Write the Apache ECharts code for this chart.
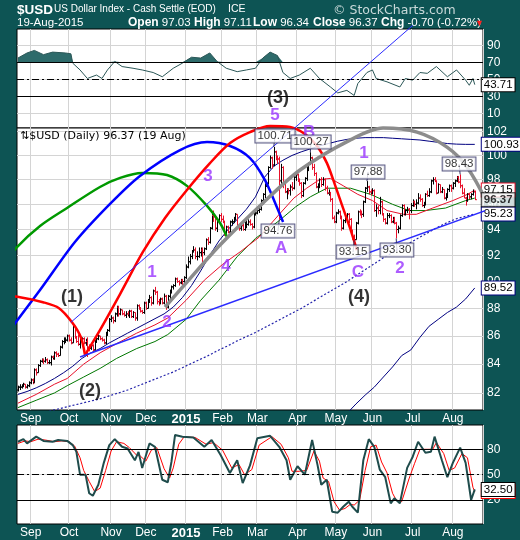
<!DOCTYPE html>
<html><head><meta charset="utf-8">
<script src="https://cdn.jsdelivr.net/npm/echarts@6/dist/echarts.min.js"></script>
<style>html,body{margin:0;padding:0;background:#0d5454}#c{width:520px;height:540px}</style>
</head><body><div id="c"></div>
<script>
// ---------- DATA ----------
const HOLIDAYS = ['2014-09-01','2014-11-27','2014-12-25','2015-01-01','2015-01-19','2015-02-16','2015-04-03','2015-05-25','2015-07-03'];
const FIRST_DAY = '2014-08-21';
const N_SLOTS = 255;
const MONTHS = ['2015','Feb','Mar','Apr','May','Jun','Jul','Aug','Sep','Oct','Nov','Dec'];
const priceTicks = [82,84,86,88,90,92,94,96,98,100,102];
const rsiTicks = [10,30,50,70,90];
const stoTicks = [20,50,80];

// daily bars [open, high, low, close]
const aug14 = [[82.2,82.5,82.1,82.4],[82.4,82.6,82.2,82.4],[82.4,82.6,82.3,82.5],[82.5,82.7,82.4,82.6],[82.6,82.6,82.3,82.4],[82.4,82.6,82.3,82.5],[82.5,82.8,82.4,82.7]];
const sep14 = [[82.7,83.0,82.6,82.9],[82.9,83.0,82.6,82.7],[82.7,83.7,82.7,83.6],[83.6,83.7,83.2,83.4],[83.4,84.0,83.4,83.9],[83.9,84.3,83.8,84.2],[84.2,84.4,84.1,84.3],[84.3,84.4,84.0,84.2],[84.2,84.5,84.1,84.3],[84.3,84.4,84.0,84.1],[84.1,84.3,84.0,84.1],[84.1,84.6,83.9,84.5],[84.5,84.6,84.3,84.4],[84.4,84.9,84.3,84.8],[84.8,84.9,84.5,84.7],[84.7,84.8,84.5,84.6],[84.6,85.3,84.6,85.2],[85.2,85.7,85.1,85.6],[85.6,85.9,85.4,85.6],[85.6,85.9,85.5,85.7],[85.7,86.1,85.6,86.0]];
const oct14 = [[86.0,86.1,85.6,85.7],[85.7,85.9,85.4,85.5],[85.5,86.9,85.5,86.7],[86.7,86.7,85.8,85.9],[85.9,86.0,85.5,85.6],[85.6,86.1,85.3,85.4],[85.4,85.8,85.1,85.7],[85.7,85.9,85.5,85.8],[85.8,85.9,85.4,85.5],[85.5,85.8,85.3,85.6],[85.6,85.9,84.5,85.2],[85.2,85.4,84.9,85.1],[85.1,85.5,85.0,85.3],[85.3,85.4,84.9,85.0],[85.0,85.7,85.0,85.6],[85.6,85.9,85.5,85.8],[85.8,86.1,85.7,86.0],[86.0,86.0,85.7,85.8],[85.8,85.9,85.6,85.7],[85.7,85.8,85.4,85.5],[85.5,86.3,85.4,86.2],[86.2,86.5,86.0,86.4],[86.4,87.3,86.3,87.2]];
const nov14 = [[87.2,87.5,87.0,87.3],[87.3,87.4,86.9,87.1],[87.1,87.7,87.0,87.6],[87.6,88.2,87.4,88.1],[88.1,88.2,87.4,87.6],[87.6,88.0,87.5,87.9],[87.9,87.9,87.5,87.6],[87.6,87.8,87.4,87.5],[87.5,87.8,87.3,87.6],[87.6,87.8,87.4,87.5],[87.5,87.9,87.3,87.8],[87.8,87.9,87.3,87.4],[87.4,87.8,87.3,87.7],[87.7,87.7,87.1,87.3],[87.3,88.3,87.1,88.2],[88.2,88.3,87.9,88.0],[88.0,88.1,87.7,87.8],[87.8,87.9,87.6,87.7],[87.7,88.5,87.6,88.4]];
const dec14 = [[88.4,88.5,87.9,88.0],[88.0,88.7,88.0,88.6],[88.6,89.0,88.4,88.8],[88.8,88.9,88.2,88.4],[88.4,89.4,88.3,89.3],[89.3,89.6,89.0,89.2],[89.2,89.3,88.3,88.5],[88.5,88.7,88.2,88.4],[88.4,88.8,88.3,88.7],[88.7,88.8,88.3,88.4],[88.4,89.1,88.3,88.9],[88.9,89.0,87.9,88.1],[88.1,89.0,88.0,88.9],[88.9,89.4,88.7,89.2],[89.2,89.7,89.1,89.6],[89.6,89.8,89.4,89.7],[89.7,90.3,89.6,90.2],[90.2,90.3,89.9,90.0],[90.0,90.1,89.7,89.9],[89.9,90.2,89.8,90.1],[90.1,90.2,89.7,90.0],[90.0,90.4,89.9,90.3]];
const jan15 = [[90.3,91.3,90.2,91.1],[91.1,91.9,91.0,91.5],[91.5,92.1,91.3,91.9],[91.9,92.4,91.7,92.3],[92.3,92.7,92.2,92.4],[92.4,92.6,91.7,91.9],[91.9,92.3,91.6,91.9],[91.9,92.6,91.8,92.2],[92.2,92.6,91.9,92.4],[92.4,92.6,91.4,92.2],[92.2,92.6,92.0,92.5],[92.5,93.3,92.4,93.2],[93.2,93.4,92.8,93.0],[93.0,94.2,92.9,94.1],[94.1,95.3,94.0,95.1],[95.1,95.5,94.6,95.0],[95.0,95.0,93.9,94.1],[94.1,94.8,93.8,94.7],[94.7,95.2,94.5,95.1],[95.1,95.3,94.6,94.8]];
const feb15 = [[94.8,95.1,94.5,94.6],[94.6,94.7,93.5,93.6],[93.6,94.3,93.4,94.2],[94.2,94.3,93.7,93.8],[93.8,94.7,93.6,94.6],[94.6,94.8,94.3,94.6],[94.6,95.0,94.5,94.9],[94.9,95.3,94.7,95.2],[95.2,95.2,94.1,94.2],[94.2,94.3,93.9,94.1],[94.1,94.4,93.9,94.3],[94.3,94.5,93.9,94.0],[94.0,94.6,93.9,94.4],[94.4,94.9,94.1,94.4],[94.4,94.8,94.3,94.6],[94.6,94.8,94.3,94.4],[94.4,94.5,94.0,94.2],[94.2,95.4,94.1,95.3],[95.3,95.5,95.1,95.3]];
const mar15 = [[95.3,95.6,95.2,95.5],[95.5,95.8,95.3,95.6],[95.6,96.4,95.5,96.3],[96.3,96.9,96.0,96.8],[96.8,97.7,96.5,97.6],[97.6,97.9,97.4,97.7],[97.7,99.1,97.6,99.0],[99.0,100.0,98.9,99.8],[99.8,99.9,98.9,99.2],[99.2,100.71,99.1,100.3],[100.3,100.4,99.6,99.9],[99.9,100.0,99.3,99.7],[99.7,99.9,94.76,97.9],[97.9,99.3,97.6,99.0],[99.0,99.1,97.3,97.8],[97.8,97.9,96.9,97.0],[97.0,97.3,96.4,97.2],[97.2,97.3,96.8,97.1],[97.1,97.6,96.7,97.4],[97.4,97.8,97.1,97.3],[97.3,98.3,97.2,98.2],[98.2,98.6,97.9,98.4]];
const apr15 = [[98.4,98.5,97.8,98.0],[98.0,98.1,97.5,97.7],[97.7,97.8,96.5,96.7],[96.7,97.8,96.6,97.7],[97.7,98.2,97.6,98.1],[98.1,99.1,97.9,99.0],[99.0,99.4,98.7,99.3],[99.3,100.27,99.2,99.8],[99.8,99.9,98.8,99.0],[99.0,99.3,98.3,98.5],[98.5,98.6,97.3,97.4],[97.4,97.7,97.0,97.5],[97.5,98.1,97.3,98.0],[98.0,98.2,97.4,97.6],[97.6,98.2,97.5,98.0],[98.0,98.1,97.1,97.3],[97.3,97.5,96.8,96.9],[96.9,97.2,96.7,96.9],[96.9,97.0,96.2,96.4],[96.4,96.5,94.8,94.9],[94.9,95.1,94.5,94.6]];
const may15 = [[94.6,95.4,94.5,95.3],[95.3,95.6,95.2,95.4],[95.4,95.5,94.8,95.0],[95.0,95.1,93.9,94.1],[94.1,94.8,94.0,94.7],[94.7,95.1,94.5,94.8],[94.8,95.3,94.7,95.2],[95.2,95.3,94.5,94.8],[94.8,94.9,93.7,93.8],[93.8,94.0,93.2,93.3],[93.3,93.6,93.15,93.2],[93.2,94.6,93.2,94.5],[94.5,95.5,94.4,95.4],[95.4,95.6,95.1,95.3],[95.3,95.5,94.9,95.2],[95.2,96.3,95.0,96.2],[96.2,97.4,96.1,97.3],[97.3,97.88,97.0,97.4],[97.4,97.5,96.8,97.0],[97.0,97.2,96.7,96.9]];
const jun15 = [[96.9,97.3,96.8,97.1],[97.1,97.2,95.4,95.5],[95.5,96.0,95.0,95.7],[95.7,95.9,95.2,95.5],[95.5,96.6,95.2,96.2],[96.2,96.3,95.1,95.2],[95.2,95.3,94.6,94.8],[94.8,94.9,94.4,94.5],[94.5,95.3,94.4,95.1],[95.1,95.3,94.9,95.1],[95.1,95.2,94.5,94.6],[94.6,95.0,94.5,94.8],[94.8,95.0,94.4,94.5],[94.5,94.6,93.3,94.0],[94.0,94.3,93.7,94.1],[94.1,95.2,94.0,95.1],[95.1,96.0,95.0,95.9],[95.9,96.0,95.1,95.2],[95.2,95.6,95.1,95.5],[95.5,95.8,95.3,95.6],[95.6,95.7,94.8,95.5],[95.5,96.1,95.3,95.9]];
const jul15 = [[95.9,96.4,95.8,96.2],[96.2,96.3,95.8,96.0],[96.0,96.4,95.6,96.1],[96.1,96.9,96.0,96.5],[96.5,96.8,96.2,96.4],[96.4,96.5,95.8,95.9],[95.9,96.2,95.7,96.0],[96.0,96.9,95.9,96.8],[96.8,97.1,96.6,96.7],[96.7,97.3,96.6,97.0],[97.0,98.0,96.9,97.9],[97.9,98.2,97.6,98.0],[98.0,98.2,97.8,97.9],[97.9,97.9,96.8,96.9],[96.9,97.7,96.9,97.6],[97.6,97.6,96.9,97.0],[97.0,97.4,96.9,97.2],[97.2,97.2,96.4,96.5],[96.5,96.9,96.3,96.7],[96.7,97.3,96.5,97.2],[97.2,97.6,97.0,97.5],[97.5,97.6,97.0,97.3]];
const aug15 = [[97.3,97.8,97.2,97.7],[97.7,98.0,97.4,97.9],[97.9,98.3,97.8,98.2],[98.2,98.3,97.7,97.8],[97.8,98.43,97.3,97.5],[97.5,97.6,96.8,96.9],[96.9,97.3,96.5,96.5],[96.5,96.6,95.9,96.3],[96.3,96.9,96.2,96.8],[96.8,96.9,96.4,96.6],[96.6,96.9,96.4,96.8],[96.8,97.2,96.7,97.0],[97.03,97.11,96.34,96.37]];

// overlays: [trading-day slot, price]
const upperBand = [[0,81.9],[5,82.1],[10,82.35],[15,82.65],[20,83.0],[25,83.4],[30,83.85],[35,84.4],[40,84.8],[45,85.1],[50,85.5],[55,85.85],[60,86.2],[65,86.55],[70,86.9],[75,87.25],[80,87.6],[85,88.1],[90,88.8],[95,89.7],[100,90.8],[105,92.0],[110,93.1],[115,94.0],[120,94.8],[125,95.6],[130,96.6],[135,98.2],[140,99.1],[145,99.6],[150,100.0],[155,100.3],[160,100.55],[165,100.8],[170,101.0],[175,101.2],[180,101.35],[185,101.45],[190,101.5],[195,101.5],[200,101.5],[205,101.45],[210,101.4],[215,101.35],[220,101.3],[225,101.2],[230,101.1],[235,101.0],[240,100.95],[245,100.93],[250,100.93]];
const lowerBand = [[175,80.0],[180,80.6],[185,81.25],[190,81.85],[195,82.4],[200,83.1],[205,83.8],[210,84.6],[215,85.0],[220,85.9],[225,86.7],[230,87.2],[235,87.7],[240,88.1],[245,88.7],[250,89.52]];
const sma200 = [[15,80.7],[20,80.85],[25,81.0],[30,81.15],[35,81.3],[40,81.45],[45,81.6],[50,81.8],[55,82.0],[60,82.2],[65,82.45],[70,82.7],[75,82.95],[80,83.2],[85,83.45],[90,83.75],[95,84.05],[100,84.35],[105,84.65],[110,85.0],[115,85.3],[120,85.65],[125,85.95],[130,86.25],[135,86.6],[140,86.95],[145,87.3],[150,87.65],[155,88.0],[160,88.4],[165,88.8],[170,89.2],[175,89.6],[180,90.0],[185,90.45],[190,90.9],[195,91.35],[200,91.8],[205,92.2],[210,92.6],[215,93.0],[220,93.4],[225,93.8],[230,94.2],[235,94.55],[240,94.85],[245,95.05],[250,95.23]];
const redMA = [[0,81.3],[10,81.9],[20,82.6],[27,83.0],[36,84.0],[45,84.8],[54,85.45],[65,86.2],[75,86.8],[82,87.3],[92,88.6],[102,90.1],[112,91.3],[122,92.3],[132,93.4],[143,95.2],[151,96.5],[158,97.3],[165,98.0],[171,98.1],[178,97.5],[186,96.8],[194,96.3],[202,95.5],[211,95.2],[218,95.2],[227,95.7],[238,96.3],[246,96.8],[250,97.15]];
const greenMA = [[0,81.0],[10,81.5],[20,82.0],[27,82.5],[36,83.1],[45,83.7],[54,84.4],[65,85.1],[75,85.6],[82,86.1],[92,87.2],[100,88.6],[110,90.1],[120,91.9],[130,93.3],[143,94.7],[152,95.8],[160,96.6],[169,97.3],[182,97.3],[193,96.8],[205,96.0],[214,95.5],[223,95.5],[234,95.7],[245,96.3],[250,96.5]];
const rsi = [[0,75],[5,81],[9,84],[14,79],[19,82],[26,81],[29,80],[30,69],[34,61],[38,51],[43,55],[46,51],[49,61],[53,71],[57,65],[63,63],[68,61],[74,58],[79,53],[85,63],[90,69],[95,76],[100,75],[105,81],[109,71],[114,63],[120,59],[125,61],[130,63],[134,75],[138,82],[142,78],[145,58],[149,51],[154,55],[160,63],[165,51],[171,41],[175,34],[180,37],[184,31],[186,45],[191,58],[194,61],[196,51],[202,47],[209,41],[212,51],[216,49],[220,58],[224,57],[229,65],[235,53],[240,61],[245,49],[247,43],[249,51],[250,43.71]];
const stoK = [[0,89],[3,92],[5,87],[10,95],[14,90],[19,89],[22,91],[27,90],[30,85],[32,77],[34,50],[37,50],[39,28],[41,25],[44,38],[47,64],[50,85],[53,92],[57,83],[60,81],[64,67],[66,77],[68,58],[72,87],[75,83],[79,44],[82,41],[84,65],[86,97],[90,95],[96,94],[102,83],[106,91],[111,73],[116,52],[120,67],[123,40],[127,61],[131,93],[138,96],[143,83],[147,67],[149,44],[153,60],[157,50],[161,91],[164,61],[166,38],[169,44],[172,6],[175,5],[178,12],[181,18],[183,12],[186,5],[189,67],[192,92],[195,83],[198,56],[201,47],[204,16],[206,22],[209,16],[213,58],[216,71],[219,89],[223,76],[226,77],[228,95],[232,67],[235,47],[238,64],[242,82],[245,64],[248,20],[250,32.5]];
const stoD = [[0,87],[4,90],[7,89],[11,92],[15,91],[20,89],[24,90],[28,89],[31,84],[34,70],[36,55],[39,42],[42,30],[45,34],[48,55],[51,78],[54,89],[58,87],[61,82],[65,73],[67,72],[70,66],[73,79],[76,82],[80,57],[83,46],[85,58],[88,86],[91,95],[97,94],[103,86],[107,88],[112,79],[117,58],[121,62],[124,50],[128,56],[132,85],[139,95],[144,86],[148,70],[150,54],[154,54],[158,55],[162,78],[165,66],[167,46],[170,42],[173,18],[176,8],[179,10],[182,15],[184,14],[187,20],[190,55],[193,83],[196,85],[199,65],[202,52],[205,28],[207,20],[210,18],[214,45],[217,63],[220,80],[224,80],[227,80],[229,88],[233,75],[236,55],[239,58],[243,75],[246,70],[249,35],[250,30]];

// annotations: [trading-day slot, price]
const greenArc = [[-9.8,91.0],[-0.5,92.63],[12.1,94.28],[26.9,95.71],[44.9,97.4],[55.9,98.14],[67.9,98.55],[81.6,98.38],[92.5,97.49],[103.5,95.87],[110.6,94.51],[114.4,93.41]];
const blueArc = [[-9.8,85.49],[12.1,89.36],[31.2,93.02],[50.4,96.03],[66.8,98.3],[88.7,100.45],[103.5,101.12],[116.1,100.79],[127.0,99.78],[135.2,97.96],[141.2,95.95],[145.1,94.59]];
const redArcLeft = [[-9.8,88.98],[1.1,88.83],[13.7,88.46],[22.5,88.02],[29.6,86.99],[34.4,85.92],[36.7,84.64]];
const redArc = [[36.7,84.64],[44.9,86.42],[55.9,89.06],[68.4,92.25],[80.5,94.91],[92.5,97.16],[105.1,99.36],[116.1,101.04],[127.0,101.97],[138.0,102.49],[148.9,102.4],[157.1,101.8],[163.7,100.79],[169.1,99.36],[173.5,97.57],[177.3,95.95],[181.7,94.12],[185.5,92.4]];
const grayArc = [[80.5,88.09],[92.5,89.96],[110.6,92.79],[134.1,96.11],[154.4,98.79],[181.7,101.29],[199.8,102.31],[218.4,101.97],[234.8,100.7],[245.7,99.04],[256.7,96.11],[263.8,93.4],[265.4,91.84]];
const lowerTrend = [[34.0,84.5],[274.7,96.5]];
const channelLine = [[29.0,86.99],[216.2,111.5]];
const waveLabels = [['(1)',29.6,88.83,'#000'],['(2)',39.4,82.15,'#000'],['(3)',142.3,104.88,'#000'],['(4)',186.6,88.83,'#000'],
  ['5',140.7,103.43,'#9933ff'],['3',104.0,98.3,'#9933ff'],['1',73.4,90.71,'#9933ff'],['2',81.6,87.0,'#9933ff'],['4',113.9,91.16,'#9933ff'],
  ['A',144.0,92.55,'#9933ff'],['B',159.3,101.97,'#9933ff'],['C',186.1,90.71,'#9933ff'],['1',189.4,100.2,'#9933ff'],['2',209.1,91.01,'#9933ff']];
// [text, tag slot, tag price, bar slot, bar price]
const valueTags = [['100.71',140.7,101.63,140,100.71],['100.27',160.4,101.12,160,100.27],['94.76',142.3,93.88,143,94.76],['97.88',191.6,98.63,191,97.88],['98.43',241.4,99.28,242,98.43],['93.15',183.4,92.25,184,93.15],['93.30',207.4,92.4,207,93.3]];

// ---------- BUILD ----------
function makeDays(start, n) {
  const hol = new Set(HOLIDAYS), out = [];
  const d = new Date(start + 'T00:00:00Z');
  while (out.length < n) {
    const wd = d.getUTCDay(), s = d.toISOString().slice(0, 10);
    if (wd !== 0 && wd !== 6 && !hol.has(s)) out.push(s);
    d.setUTCDate(d.getUTCDate() + 1);
  }
  return out;
}
const days = makeDays(FIRST_DAY, N_SLOTS);
const isMonthStart = i => i > 0 && days[i].slice(5, 7) !== days[i - 1].slice(5, 7);
const monthLabel = i => { const m = +days[i].slice(5, 7); return m === 1 ? '{b|2015}' : MONTHS[m - 1]; };
const L = Math.log;
const bars = [].concat(aug14, sep14, oct14, nov14, dec14, jan15, feb15, mar15, apr15, may15, jun15, jul15, aug15);
const barData = bars.map((b, i) => [i, L(b[0]), L(b[1]), L(b[2]), L(b[3]), (i === 0 || b[3] >= bars[i - 1][3]) ? 1 : 0]);
const lnPts = a => a.map(p => [p[0], L(p[1])]);

const FONT = 'Liberation Sans, Arial, sans-serif';
const grids = [
  {left: 17, right: 37, top: 29, height: 99},
  {left: 17, right: 37, top: 128, height: 282},
  {left: 17, right: 37, top: 425, height: 99}
].map(g => Object.assign(g, {show: true, backgroundColor: '#fff', borderColor: '#000', borderWidth: 1, containLabel: false}));

function catAxis(gi, showLabels) {
  return {type: 'category', gridIndex: gi, data: days, boundaryGap: true,
    axisLine: {show: false}, axisTick: {show: false},
    splitLine: {show: true, interval: (i) => isMonthStart(i), lineStyle: {color: '#d4d4d4', width: 1}},
    axisLabel: {show: showLabels, interval: (i) => isMonthStart(i), formatter: (v, i) => monthLabel(i),
      color: '#fff', fontSize: 12, fontFamily: FONT, margin: 3,
      rich: {b: {fontWeight: 'bold', fontSize: 13, color: '#fff', fontFamily: FONT}}}};
}
function valAxisY(gi, min, max, ticks, fmt) {
  return {type: 'value', gridIndex: gi, position: 'right', min, max, scale: true,
    axisLine: {show: false}, axisTick: {show: false, customValues: ticks},
    splitLine: {show: true, lineStyle: {color: '#d4d4d4', width: 1}},
    axisLabel: {customValues: ticks, formatter: fmt, color: '#fff', fontSize: 12, fontFamily: FONT, margin: 4}};
}
const noAnim = {animation: false, silent: true};
const tagBox = (border, bold) => ({show: true, color: '#000', fontSize: 11.5, fontFamily: FONT,
  fontWeight: bold ? 'bold' : 'normal', backgroundColor: '#fff', borderColor: border, borderWidth: 1, padding: [1, 2, 0, 2]});

const annoLine = (data, color, width, smooth, z) => Object.assign({type: 'line', xAxisIndex: 3, yAxisIndex: 1, data: lnPts(data),
  showSymbol: false, smooth: smooth || false, clip: false, z: z || 20, lineStyle: {color, width}}, noAnim);

const series = [
  Object.assign({type: 'line', xAxisIndex: 0, yAxisIndex: 0, data: rsi.map(p => [p[0], Math.max(p[1], 70)]), showSymbol: false,
    lineStyle: {width: 0}, areaStyle: {color: '#2e6b6b', origin: 70, opacity: 1}, z: 2}, noAnim),
  Object.assign({type: 'line', xAxisIndex: 0, yAxisIndex: 0, data: rsi, showSymbol: false, z: 3,
    lineStyle: {color: '#2b5757', width: 1},
    endLabel: Object.assign(tagBox('#000'), {formatter: '43.71', distance: 7}),
    markLine: {symbol: 'none', silent: true, label: {show: false}, animation: false, data: [
      {yAxis: 70, lineStyle: {color: '#000', width: 1, type: 'solid'}},
      {yAxis: 30, lineStyle: {color: '#000', width: 1, type: 'solid'}},
      {yAxis: 50, lineStyle: {color: '#000', width: 1, type: [7, 3, 2, 3]}}]}}, noAnim),
  Object.assign({type: 'line', xAxisIndex: 1, yAxisIndex: 1, data: lnPts(sma200), showSymbol: false, z: 4,
    lineStyle: {color: '#2222aa', width: 1.2, type: [2, 2]}, endLabel: Object.assign(tagBox('#000080'), {formatter: '95.23', distance: 7})}, noAnim),
  Object.assign({type: 'line', xAxisIndex: 1, yAxisIndex: 1, data: lnPts(upperBand), showSymbol: false, z: 4,
    lineStyle: {color: '#000080', width: 1}, endLabel: Object.assign(tagBox('#000080'), {formatter: '100.93', distance: 7})}, noAnim),
  Object.assign({type: 'line', xAxisIndex: 1, yAxisIndex: 1, data: lnPts(lowerBand), showSymbol: false, z: 4,
    lineStyle: {color: '#000080', width: 1}, endLabel: Object.assign(tagBox('#000080'), {formatter: '89.52', distance: 7})}, noAnim),
  Object.assign({type: 'line', xAxisIndex: 1, yAxisIndex: 1, data: lnPts(greenMA), showSymbol: false, z: 4,
    lineStyle: {color: '#007700', width: 1}}, noAnim),
  Object.assign({type: 'line', xAxisIndex: 1, yAxisIndex: 1, data: lnPts(redMA), showSymbol: false, z: 4,
    lineStyle: {color: '#e8102a', width: 1}, endLabel: Object.assign(tagBox('#e8102a'), {formatter: '97.15', distance: 7})}, noAnim),
  Object.assign({type: 'custom', xAxisIndex: 1, yAxisIndex: 1, data: barData, encode: {x: 0, y: [1, 2, 3, 4]}, z: 6,
    renderItem: (params, api) => {
      const i = api.value(0);
      const o = api.coord([i, api.value(1)]), h = api.coord([i, api.value(2)]), l = api.coord([i, api.value(3)]), c = api.coord([i, api.value(4)]);
      const x = Math.round(h[0]) + 0.5;
      const st = {stroke: api.value(5) ? '#000' : '#e8102a', lineWidth: 1};
      return {type: 'group', children: [
        {type: 'line', shape: {x1: x, y1: h[1], x2: x, y2: l[1]}, style: st},
        {type: 'line', shape: {x1: x - 1.5, y1: o[1], x2: x, y2: o[1]}, style: st},
        {type: 'line', shape: {x1: x, y1: c[1], x2: x + 1.5, y2: c[1]}, style: st}]};
    }}, noAnim),
  Object.assign({type: 'scatter', xAxisIndex: 1, yAxisIndex: 1, data: [[bars.length - 1, L(bars[bars.length - 1][3])]], symbolSize: 0, z: 30,
    label: Object.assign(tagBox('#000', true), {position: 'right', distance: 7, formatter: '96.37'})}, noAnim),
  annoLine(greenArc, '#009900', 2.5, 0.3),
  annoLine(blueArc, '#0000ff', 2.5, 0.3),
  annoLine(redArcLeft, '#ff0000', 2.5, 0.3),
  annoLine(redArc, '#ff0000', 2.5, 0.3),
  annoLine(grayArc, '#8c8c8c', 3.5, 0.3),
  annoLine(lowerTrend, '#2b2bff', 1.5),
  annoLine(channelLine, '#2b2bff', 1),
  ...valueTags.map(t => annoLine([[t[1], t[2]], [t[3], t[4]]], '#333366', 1, false, 39)),
  Object.assign({type: 'scatter', xAxisIndex: 3, yAxisIndex: 1, clip: false, z: 40, symbolSize: 0,
    data: waveLabels.map(w => ({value: [w[1], L(w[2])], label: {show: true, position: 'inside', formatter: w[0], color: w[3],
      fontSize: w[3] === '#000' ? 18 : 17, fontWeight: 'bold', fontFamily: FONT}}))}, noAnim),
  Object.assign({type: 'scatter', xAxisIndex: 3, yAxisIndex: 1, clip: false, z: 41, symbolSize: 0,
    data: valueTags.map(t => ({value: [t[1], L(t[2])], label: Object.assign(tagBox('#333366'), {position: 'inside', formatter: t[0]})}))}, noAnim),
  Object.assign({type: 'line', xAxisIndex: 2, yAxisIndex: 2, data: stoD, showSymbol: false, z: 3,
    lineStyle: {color: '#ff0000', width: 1},
    endLabel: Object.assign(tagBox('#ff0000'), {formatter: '32.50', distance: 7})}, noAnim),
  Object.assign({type: 'line', xAxisIndex: 2, yAxisIndex: 2, data: stoK, showSymbol: false, z: 4,
    lineStyle: {color: '#1f4c4c', width: 2},
    endLabel: Object.assign(tagBox('#000'), {formatter: '32.50', distance: 7}),
    markLine: {symbol: 'none', silent: true, label: {show: false}, animation: false, data: [
      {yAxis: 80, lineStyle: {color: '#000', width: 1, type: 'solid'}},
      {yAxis: 20, lineStyle: {color: '#000', width: 1, type: 'solid'}},
      {yAxis: 50, lineStyle: {color: '#000', width: 1, type: [7, 3, 2, 3]}}]}}, noAnim)
];

const T = (x, y, text, opt) => ({type: 'text', left: x, top: y, z: 60, style: Object.assign({text, fill: '#fff', fontSize: 11.5, fontFamily: FONT}, opt || {})});
const boldRich = {rich: {b: {fontWeight: 'bold', fontSize: 12, fill: '#fff', fontFamily: FONT}}};
const chart = echarts.init(document.getElementById('c'), null, {renderer: 'canvas'});
chart.setOption({
  backgroundColor: '#0d5454',
  animation: false,
  grid: grids,
  xAxis: [catAxis(0, false), catAxis(1, true), catAxis(2, true),
    {type: 'value', gridIndex: 1, min: -0.5, max: N_SLOTS - 0.5, show: false}],
  yAxis: [
    valAxisY(0, -7.3, 109.2, rsiTicks, v => v),
    valAxisY(1, L(80.84), L(102.32), priceTicks.map(L), v => Math.round(Math.exp(v))),
    valAxisY(2, -8.4, 108.8, stoTicks, v => v)
  ],
  series,
  graphic: [
    T(17, 3, '$USD', {fontSize: 13.5, fontWeight: 'bold'}),
    T(54, 4, 'US Dollar Index - Cash Settle (EOD)', {fontSize: 10}),
    T(228, 4, 'ICE', {fontSize: 10.5}),
    T(333, 4, '© StockCharts.com', {fontSize: 12.5, fill: '#c9d9d9', fontFamily: 'DejaVu Sans, Verdana, sans-serif'}),
    T(17, 17, '19-Aug-2015'),
    T(128, 17, '{b|Open} 97.03', boldRich),
    T(194, 17, '{b|High} 97.11', boldRich),
    T(253, 17, '{b|Low} 96.34', boldRich),
    T(313, 17, '{b|Close} 96.37', boldRich),
    T(381, 17, '{b|Chg} -0.70 (-0.72%)', boldRich),
    T(475, 19, '▼', {fill: '#ff2020', fontSize: 9}),
    {type: 'text', left: 20, top: 131, z: 50, style: {text: '⇅$USD (Daily) 96.37 (19 Aug)', fill: '#000', fontSize: 11, fontFamily: 'DejaVu Sans, Verdana, sans-serif'}}
  ]
});
</script>
</body></html>
